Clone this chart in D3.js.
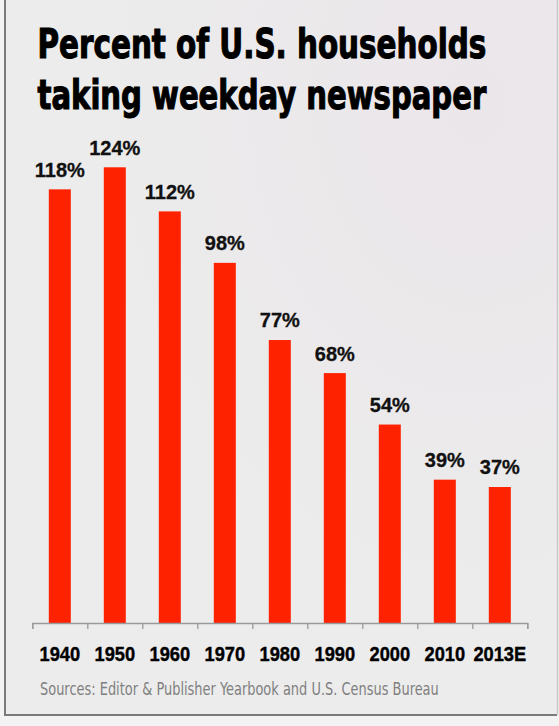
<!DOCTYPE html>
<html>
<head>
<meta charset="utf-8">
<script src="https://cdn.jsdelivr.net/npm/d3@7"></script>
<style>
  html, body { margin: 0; padding: 0; background: #f2f2f2; }
  svg { display: block; }
</style>
</head>
<body>
<svg id="chart" width="559" height="726"></svg>
<script>
const categories = ["1940", "1950", "1960", "1970", "1980", "1990", "2000", "2010", "2013E"];
const values = [118, 124, 112, 98, 77, 68, 54, 39, 37];
const valueLabels = ["118%", "124%", "112%", "98%", "77%", "68%", "54%", "39%", "37%"];
const titleLines = ["Percent of U.S. households", "taking weekday newspaper"];
const sourceText = "Sources: Editor & Publisher Yearbook and U.S. Census Bureau";

const svg = d3.select("#chart");
const W = 559, H = 726;

// fit a text element horizontally to a target width using a transform
function fitWidth(sel, x, y, target, anchor) {
  sel.attr("x", 0).attr("y", 0);
  const w = sel.node().getComputedTextLength();
  const s = target / w;
  sel.attr("transform", `translate(${x},${y}) scale(${s},1)`);
  if (anchor) sel.attr("text-anchor", anchor);
}

// background with subtle gradient
const defs = svg.append("defs");
const grad = defs.append("radialGradient").attr("id", "bg")
  .attr("cx", "85%").attr("cy", "15%").attr("r", "70%");
grad.append("stop").attr("offset", "0%").attr("stop-color", "#ebe6ea");
grad.append("stop").attr("offset", "100%").attr("stop-color", "#ececec");

svg.append("rect").attr("x", 0).attr("y", 0).attr("width", W).attr("height", H).attr("fill", "#f3f3f3");
svg.append("rect").attr("x", 5).attr("y", -5).attr("width", 552).attr("height", 720)
  .attr("fill", "url(#bg)");
// frame
svg.append("path").attr("d", "M5,0 V715 H557")
  .attr("fill", "none").attr("stroke", "#7a7a7a").attr("stroke-width", 2);
svg.append("path").attr("d", "M557.5,0 V715")
  .attr("fill", "none").attr("stroke", "#c8c8c8").attr("stroke-width", 1.5);

// title
const condensed = "'Liberation Sans Narrow', 'DejaVu Sans Condensed', 'Liberation Sans', Arial, sans-serif";
svg.selectAll("text.title").data(titleLines).enter().append("text")
  .attr("class", "title")
  .attr("font-family", condensed)
  .attr("font-weight", "bold")
  .attr("font-size", 40)
  .attr("fill", "#000")
  .attr("stroke", "#000")
  .attr("stroke-width", 1.1)
  .text(d => d)
  .each(function(d, i) {
    fitWidth(d3.select(this), 37.5, 57.5 + i * 51, 449);
  });

// scales
const x = d3.scaleBand().domain(categories).range([32.3, 527.3])
  .paddingInner(0.6).paddingOuter(0.3);
const y = d3.scaleLinear().domain([0, 130]).range([623, 623 - 130 * 3.675]);

// bars
svg.selectAll("rect.bar").data(values).enter().append("rect")
  .attr("class", "bar")
  .attr("x", (d, i) => x(categories[i]))
  .attr("width", x.bandwidth())
  .attr("y", d => y(d))
  .attr("height", d => y(0) - y(d))
  .attr("fill", "#fe2200");

// value labels
svg.selectAll("text.val").data(values).enter().append("text")
  .attr("class", "val")
  .attr("x", (d, i) => x(categories[i]) + x.bandwidth() / 2)
  .attr("y", d => y(d) - 12.6)
  .attr("text-anchor", "middle")
  .attr("font-family", "'Liberation Sans', Arial, sans-serif")
  .attr("font-weight", "bold")
  .attr("font-size", 20)
  .attr("fill", "#111")
  .attr("stroke", "#111")
  .attr("stroke-width", 0.3)
  .text((d, i) => valueLabels[i]);

// boundary ticks axis
const xb = d3.scaleLinear().domain([0, categories.length]).range([32.3, 527.3]);
const tickAxis = svg.append("g").attr("transform", `translate(0,${y(0)})`)
  .call(d3.axisBottom(xb).tickValues(d3.range(categories.length + 1)).tickFormat("").tickSize(6).tickSizeOuter(6));
tickAxis.selectAll("path, line").attr("stroke", "#9a9a9a").attr("stroke-width", 1.3);

// category labels axis
const labelAxis = svg.append("g").attr("transform", `translate(0,${y(0)})`)
  .call(d3.axisBottom(x).tickSize(0));
labelAxis.select(".domain").remove();
labelAxis.selectAll("text")
  .attr("font-family", "'Liberation Sans', Arial, sans-serif")
  .attr("font-weight", "bold")
  .attr("font-size", 21)
  .attr("fill", "#000")
  .attr("stroke", "#000")
  .attr("stroke-width", 0.4)
  .attr("dy", 0)
  .each(function() {
    const t = d3.select(this);
    const w = this.getComputedTextLength();
    t.attr("x", 0).attr("y", 0)
     .attr("transform", `translate(0,38) scale(0.87,1)`);
  });

// source
const src = svg.append("text")
  .attr("font-family", condensed)
  .attr("font-size", 17)
  .attr("fill", "#7f7f7f")
  .text(sourceText);
fitWidth(src, 40, 694.5, 399);
</script>
</body>
</html>
